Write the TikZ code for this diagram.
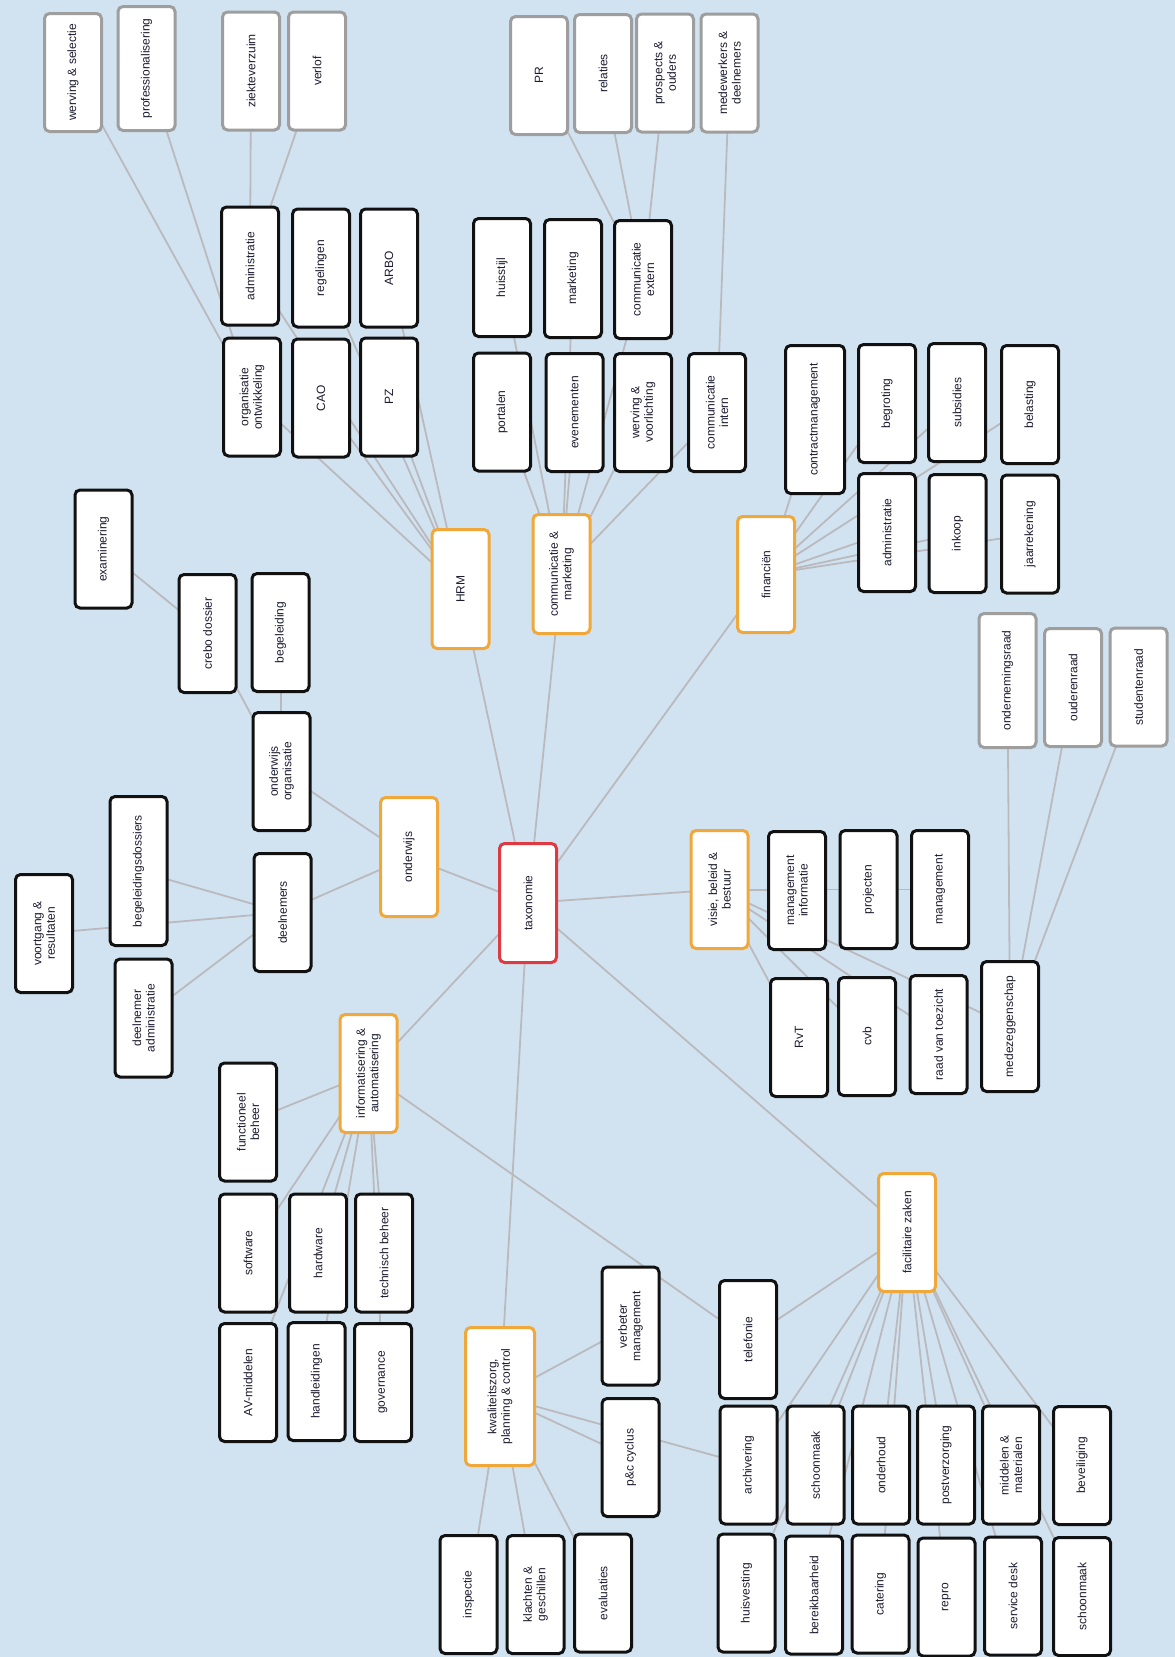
\documentclass[tikz,border=0pt]{standalone}
\usepackage{fontspec}
\setmainfont{Liberation Sans}
\usetikzlibrary{backgrounds}
\definecolor{bgc}{RGB}{209,227,241}
\definecolor{linec}{RGB}{186,186,190}
\definecolor{txtc}{RGB}{28,28,48}
\definecolor{blackb}{RGB}{17,17,17}
\definecolor{greyb}{RGB}{158,158,158}
\definecolor{orangeb}{RGB}{241,168,58}
\definecolor{redb}{RGB}{221,58,66}
\begin{document}
\begin{tikzpicture}[x=1pt,y=-1pt,
  nbox/.style={rectangle, rounded corners=5pt, fill=white, line width=3pt,
    rotate=90, minimum width=118pt, minimum height=57pt, inner sep=1pt,
    align=center, text=txtc, font=\fontsize{12}{13.5}\selectfont},
  leaf/.style={nbox, draw=blackb},
  gleaf/.style={nbox, draw=greyb},
  cat/.style={nbox, draw=orangeb},
  root/.style={nbox, draw=redb},
  conn/.style={draw=linec, line width=1.8pt}]
\useasboundingbox (0,0) rectangle (1175,1657);
\begin{pgfonlayer}{background}
\fill[bgc] (0,0) rectangle (1175,1657);
\end{pgfonlayer}

% root
\node[root, minimum width=119pt] (tax) at (528,903) {taxonomie};

% categories
\node[cat, minimum width=119pt] (hrm) at (460.5,589) {HRM};
\node[cat, minimum width=119pt] (cm) at (561.5,574) {communicatie \&\\marketing};
\node[cat, minimum width=116pt] (fin) at (766,574.5) {financiën};
\node[cat] (visie) at (719.5,889.5) {visie, beleid \&\\bestuur};
\node[cat, minimum width=119pt] (ond) at (409,857) {onderwijs};
\node[cat] (info) at (368.5,1073.5) {informatisering \&\\automatisering};
\node[cat, minimum width=138pt, minimum height=69pt] (kwal) at (500,1396.5) {kwaliteitszorg,\\planning \& control};
\node[cat] (fac) at (907,1232.5) {facilitaire zaken};

% HRM
\node[gleaf] (wervsel) at (73,72.5) {werving \& selectie};
\node[gleaf, minimum width=124pt] (prof) at (146.5,68.5) {professionalisering};
\node[gleaf] (ziekte) at (251,71) {ziekteverzuim};
\node[gleaf] (verlof) at (317,71) {verlof};
\node[leaf] (hadmin) at (250,266) {administratie};
\node[leaf] (regel) at (321,268) {regelingen};
\node[leaf] (arbo) at (389,268) {ARBO};
\node[leaf] (orgont) at (252,397) {organisatie\\ontwikkeling};
\node[leaf] (cao) at (321,398) {CAO};
\node[leaf] (pz) at (389,397) {PZ};

% communicatie & marketing
\node[gleaf] (pr) at (539,75.5) {PR};
\node[gleaf] (relaties) at (603,73.5) {relaties};
\node[gleaf] (prospects) at (665,73) {prospects \&\\ouders};
\node[gleaf] (medew) at (729.5,73) {medewerkers \&\\deelnemers};
\node[leaf] (huisstijl) at (502,277.5) {huisstijl};
\node[leaf] (marketing) at (573,278.5) {marketing};
\node[leaf] (cextern) at (643,279.5) {communicatie\\extern};
\node[leaf] (portalen) at (502,412) {portalen};
\node[leaf] (evenementen) at (574.5,412.5) {evenementen};
\node[leaf] (wervoor) at (643,412.5) {werving \&\\voorlichting};
\node[leaf] (cintern) at (717,412.5) {communicatie\\intern};

% financien
\node[leaf, minimum width=148pt, minimum height=59pt] (contract) at (815,419.5) {contractmanagement};
\node[leaf] (begroting) at (887,403.5) {begroting};
\node[leaf] (subsidies) at (957,402.5) {subsidies};
\node[leaf] (belasting) at (1030,404.5) {belasting};
\node[leaf] (fadmin) at (887,532.5) {administratie};
\node[leaf] (inkoop) at (957.5,533.5) {inkoop};
\node[leaf] (jaarrek) at (1030,534) {jaarrekening};

% onderwijs
\node[leaf] (examinering) at (103.5,549) {examinering};
\node[leaf] (crebo) at (207.5,633.5) {crebo dossier};
\node[leaf] (begeleiding) at (280.5,632.5) {begeleiding};
\node[leaf] (ondorg) at (281.5,771.5) {onderwijs\\organisatie};
\node[leaf, minimum width=149pt] (begdos) at (138.5,871) {begeleidingsdossiers};
\node[leaf] (voortgang) at (44,933.5) {voortgang \&\\resultaten};
\node[leaf] (deelnemers) at (282.5,912.5) {deelnemers};
\node[leaf] (deeladmin) at (143.5,1018) {deelnemer\\administratie};

% visie, beleid & bestuur
\node[leaf] (mi) at (797,890.5) {management\\informatie};
\node[leaf] (projecten) at (868.5,889.5) {projecten};
\node[leaf] (management) at (940,889.5) {management};
\node[leaf] (rvt) at (799,1037.5) {RvT};
\node[leaf] (cvb) at (867,1036.5) {cvb};
\node[leaf] (rvtz) at (938.5,1034.5) {raad van toezicht};
\node[leaf, minimum width=130pt] (mz) at (1010,1026.5) {medezeggenschap};
\node[gleaf, minimum width=134pt] (ondraad) at (1007.5,680.5) {ondernemingsraad};
\node[gleaf] (ouderraad) at (1073,687.5) {ouderenraad};
\node[gleaf] (studraad) at (1138.5,687) {studentenraad};

% informatisering & automatisering
\node[leaf] (functioneel) at (248,1122) {functioneel\\beheer};
\node[leaf] (software) at (248,1253) {software};
\node[leaf] (hardware) at (318,1253) {hardware};
\node[leaf] (techbeheer) at (384,1253) {technisch beheer};
\node[leaf] (avm) at (248,1382.5) {AV-middelen};
\node[leaf] (handl) at (316.5,1381.5) {handleidingen};
\node[leaf] (governance) at (383,1382.5) {governance};

% kwaliteitszorg
\node[leaf] (verbeter) at (630.5,1326) {verbeter\\management};
\node[leaf] (pc) at (630.5,1457.5) {p\&c cyclus};
\node[leaf] (inspectie) at (468.5,1594.5) {inspectie};
\node[leaf] (klachten) at (535.5,1594.5) {klachten \&\\geschillen};
\node[leaf] (evaluaties) at (603,1593) {evaluaties};

% facilitaire zaken
\node[leaf] (telefonie) at (748,1339.5) {telefonie};
\node[leaf] (archivering) at (748.5,1465) {archivering};
\node[leaf] (schoonmaak) at (815.5,1465) {schoonmaak};
\node[leaf] (onderhoud) at (881,1465) {onderhoud};
\node[leaf] (postverz) at (946,1465) {postverzorging};
\node[leaf] (middelen) at (1011,1465) {middelen \&\\materialen};
\node[leaf] (beveiliging) at (1082,1465.5) {beveiliging};
\node[leaf] (huisvesting) at (746.5,1593) {huisvesting};
\node[leaf] (bereik) at (814,1595) {bereikbaarheid};
\node[leaf] (catering) at (880.5,1594) {catering};
\node[leaf] (repro) at (946.5,1597) {repro};
\node[leaf] (servicedesk) at (1013,1596) {service desk};
\node[leaf] (schoonmaakb) at (1082,1596.5) {schoonmaak};

\begin{pgfonlayer}{background}
\foreach \a/\b in {tax/hrm, tax/cm, tax/fin, tax/visie, tax/ond, tax/info, tax/kwal, tax/fac,
  hrm/orgont, hrm/cao, hrm/pz, hrm/hadmin, hrm/regel, hrm/arbo,
  orgont/wervsel, orgont/prof, hadmin/ziekte, hadmin/verlof,
  cm/portalen, cm/evenementen, cm/wervoor, cm/cintern, cm/huisstijl, cm/marketing, cm/cextern,
  cextern/pr, cextern/relaties, cextern/prospects, cintern/medew,
  fin/contract, fin/begroting, fin/subsidies, fin/belasting, fin/fadmin, fin/inkoop, fin/jaarrek,
  visie/mi, visie/projecten, visie/management, visie/rvt, visie/cvb, visie/rvtz, visie/mz,
  mz/ondraad, mz/ouderraad, mz/studraad,
  ond/ondorg, ond/deelnemers, ondorg/crebo, ondorg/begeleiding, crebo/examinering,
  deelnemers/begdos, deelnemers/voortgang, deelnemers/deeladmin,
  info/functioneel, info/software, info/hardware, info/techbeheer, info/avm, info/handl, info/governance, info/telefonie,
  kwal/verbeter, kwal/pc, kwal/inspectie, kwal/klachten, kwal/evaluaties, kwal/archivering,
  fac/telefonie, fac/archivering, fac/schoonmaak, fac/onderhoud, fac/postverz, fac/middelen, fac/beveiliging,
  fac/huisvesting, fac/bereik, fac/catering, fac/repro, fac/servicedesk, fac/schoonmaakb}
  {\draw[conn] (\a.center) -- (\b.center);}
\end{pgfonlayer}
\end{tikzpicture}
\end{document}
